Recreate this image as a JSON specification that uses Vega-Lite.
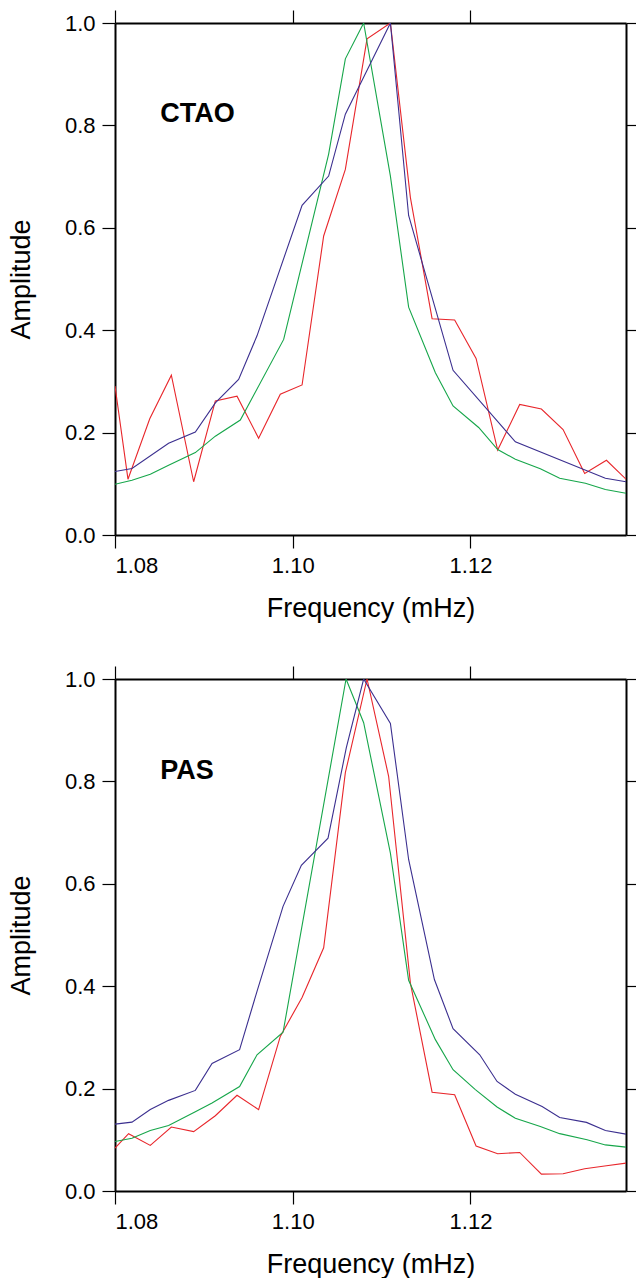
{
  "$schema": "https://vega.github.io/schema/vega-lite/v6.json",
  "background": "white",
  "padding": {"left": 7, "top": 9, "right": 8, "bottom": 1},
  "spacing": 144,
  "bounds": "flush",
  "config": {
    "view": {"stroke": null},
    "font": "Liberation Sans",
    "axis": {
      "grid": false,
      "domainColor": "black",
      "domainWidth": 2,
      "tickColor": "black",
      "tickWidth": 1.2,
      "tickSize": 13,
      "labelFont": "Liberation Sans",
      "labelFontSize": 22,
      "labelColor": "black",
      "labelPadding": 7,
      "titleFont": "Liberation Sans",
      "titleFontSize": 27,
      "titleFontWeight": "normal",
      "titleColor": "black"
    }
  },
  "datasets": {
    "ctao": [
      {"s": "red", "f": 1.08, "a": 0.291},
      {"s": "red", "f": 1.08146, "a": 0.109},
      {"s": "red", "f": 1.08391, "a": 0.227},
      {"s": "red", "f": 1.08634, "a": 0.312},
      {"s": "red", "f": 1.08885, "a": 0.104},
      {"s": "red", "f": 1.09129, "a": 0.262},
      {"s": "red", "f": 1.09373, "a": 0.271},
      {"s": "red", "f": 1.09616, "a": 0.189},
      {"s": "red", "f": 1.0986, "a": 0.275},
      {"s": "red", "f": 1.10105, "a": 0.293},
      {"s": "red", "f": 1.10348, "a": 0.584},
      {"s": "red", "f": 1.10592, "a": 0.714},
      {"s": "red", "f": 1.10836, "a": 0.969},
      {"s": "red", "f": 1.11099, "a": 1.0},
      {"s": "red", "f": 1.11324, "a": 0.659},
      {"s": "red", "f": 1.11568, "a": 0.4225},
      {"s": "red", "f": 1.11822, "a": 0.42},
      {"s": "red", "f": 1.12063, "a": 0.345},
      {"s": "red", "f": 1.12306, "a": 0.166},
      {"s": "red", "f": 1.12554, "a": 0.255},
      {"s": "red", "f": 1.12798, "a": 0.246},
      {"s": "red", "f": 1.13042, "a": 0.206},
      {"s": "red", "f": 1.13285, "a": 0.12},
      {"s": "red", "f": 1.1353, "a": 0.146},
      {"s": "red", "f": 1.1375, "a": 0.109},
      {"s": "green", "f": 1.08, "a": 0.099},
      {"s": "green", "f": 1.08191, "a": 0.107},
      {"s": "green", "f": 1.08397, "a": 0.1185},
      {"s": "green", "f": 1.08603, "a": 0.136},
      {"s": "green", "f": 1.08904, "a": 0.161},
      {"s": "green", "f": 1.09129, "a": 0.193},
      {"s": "green", "f": 1.0941, "a": 0.2246},
      {"s": "green", "f": 1.09898, "a": 0.382},
      {"s": "green", "f": 1.10404, "a": 0.744},
      {"s": "green", "f": 1.10592, "a": 0.93},
      {"s": "green", "f": 1.10798, "a": 1.0},
      {"s": "green", "f": 1.11099, "a": 0.701},
      {"s": "green", "f": 1.11304, "a": 0.445},
      {"s": "green", "f": 1.11605, "a": 0.317},
      {"s": "green", "f": 1.11804, "a": 0.252},
      {"s": "green", "f": 1.12092, "a": 0.21},
      {"s": "green", "f": 1.12306, "a": 0.167},
      {"s": "green", "f": 1.12505, "a": 0.148},
      {"s": "green", "f": 1.12786, "a": 0.1295},
      {"s": "green", "f": 1.13004, "a": 0.111},
      {"s": "green", "f": 1.13293, "a": 0.101},
      {"s": "green", "f": 1.13518, "a": 0.089},
      {"s": "green", "f": 1.1375, "a": 0.0814},
      {"s": "blue", "f": 1.08, "a": 0.124},
      {"s": "blue", "f": 1.08191, "a": 0.13},
      {"s": "blue", "f": 1.08603, "a": 0.179},
      {"s": "blue", "f": 1.08904, "a": 0.201},
      {"s": "blue", "f": 1.09129, "a": 0.258},
      {"s": "blue", "f": 1.09391, "a": 0.304},
      {"s": "blue", "f": 1.09598, "a": 0.389},
      {"s": "blue", "f": 1.10105, "a": 0.644},
      {"s": "blue", "f": 1.10404, "a": 0.701},
      {"s": "blue", "f": 1.10592, "a": 0.822},
      {"s": "blue", "f": 1.11099, "a": 1.0},
      {"s": "blue", "f": 1.11304, "a": 0.624},
      {"s": "blue", "f": 1.11804, "a": 0.3217},
      {"s": "blue", "f": 1.12505, "a": 0.182},
      {"s": "blue", "f": 1.13518, "a": 0.111},
      {"s": "blue", "f": 1.1375, "a": 0.104}
    ],
    "pas": [
      {"s": "red", "f": 1.08, "a": 0.0837},
      {"s": "red", "f": 1.08153, "a": 0.112},
      {"s": "red", "f": 1.08397, "a": 0.089},
      {"s": "red", "f": 1.08634, "a": 0.125},
      {"s": "red", "f": 1.08885, "a": 0.116},
      {"s": "red", "f": 1.09129, "a": 0.147},
      {"s": "red", "f": 1.09373, "a": 0.187},
      {"s": "red", "f": 1.09616, "a": 0.159},
      {"s": "red", "f": 1.0986, "a": 0.302},
      {"s": "red", "f": 1.10105, "a": 0.378},
      {"s": "red", "f": 1.10348, "a": 0.475},
      {"s": "red", "f": 1.10592, "a": 0.817},
      {"s": "red", "f": 1.10836, "a": 1.0},
      {"s": "red", "f": 1.11079, "a": 0.81},
      {"s": "red", "f": 1.11324, "a": 0.406},
      {"s": "red", "f": 1.11568, "a": 0.193},
      {"s": "red", "f": 1.11822, "a": 0.188},
      {"s": "red", "f": 1.12063, "a": 0.088},
      {"s": "red", "f": 1.12306, "a": 0.0727},
      {"s": "red", "f": 1.12554, "a": 0.0753},
      {"s": "red", "f": 1.12798, "a": 0.0329},
      {"s": "red", "f": 1.13042, "a": 0.0336},
      {"s": "red", "f": 1.13285, "a": 0.0434},
      {"s": "red", "f": 1.1353, "a": 0.0493},
      {"s": "red", "f": 1.1375, "a": 0.0544},
      {"s": "green", "f": 1.08, "a": 0.0968},
      {"s": "green", "f": 1.08191, "a": 0.103},
      {"s": "green", "f": 1.08397, "a": 0.118},
      {"s": "green", "f": 1.08603, "a": 0.128},
      {"s": "green", "f": 1.08904, "a": 0.155},
      {"s": "green", "f": 1.09092, "a": 0.172},
      {"s": "green", "f": 1.09402, "a": 0.204},
      {"s": "green", "f": 1.09598, "a": 0.266},
      {"s": "green", "f": 1.09891, "a": 0.31},
      {"s": "green", "f": 1.106, "a": 1.0},
      {"s": "green", "f": 1.10798, "a": 0.9146},
      {"s": "green", "f": 1.11099, "a": 0.66},
      {"s": "green", "f": 1.11304, "a": 0.4115},
      {"s": "green", "f": 1.11605, "a": 0.2956},
      {"s": "green", "f": 1.11804, "a": 0.237},
      {"s": "green", "f": 1.12055, "a": 0.198},
      {"s": "green", "f": 1.12299, "a": 0.164},
      {"s": "green", "f": 1.12505, "a": 0.142},
      {"s": "green", "f": 1.12786, "a": 0.126},
      {"s": "green", "f": 1.13004, "a": 0.112},
      {"s": "green", "f": 1.13312, "a": 0.1},
      {"s": "green", "f": 1.13518, "a": 0.09},
      {"s": "green", "f": 1.1375, "a": 0.0857},
      {"s": "blue", "f": 1.08, "a": 0.1306},
      {"s": "blue", "f": 1.08191, "a": 0.1345},
      {"s": "blue", "f": 1.08397, "a": 0.159},
      {"s": "blue", "f": 1.08603, "a": 0.177},
      {"s": "blue", "f": 1.08904, "a": 0.1965},
      {"s": "blue", "f": 1.09092, "a": 0.249},
      {"s": "blue", "f": 1.09402, "a": 0.276},
      {"s": "blue", "f": 1.09598, "a": 0.39},
      {"s": "blue", "f": 1.09891, "a": 0.556},
      {"s": "blue", "f": 1.10097, "a": 0.636},
      {"s": "blue", "f": 1.10397, "a": 0.689},
      {"s": "blue", "f": 1.10603, "a": 0.866},
      {"s": "blue", "f": 1.10798, "a": 1.0},
      {"s": "blue", "f": 1.11099, "a": 0.913},
      {"s": "blue", "f": 1.11304, "a": 0.6475},
      {"s": "blue", "f": 1.11594, "a": 0.413},
      {"s": "blue", "f": 1.11804, "a": 0.317},
      {"s": "blue", "f": 1.12104, "a": 0.266},
      {"s": "blue", "f": 1.12299, "a": 0.214},
      {"s": "blue", "f": 1.12505, "a": 0.189},
      {"s": "blue", "f": 1.12806, "a": 0.165},
      {"s": "blue", "f": 1.13004, "a": 0.1437},
      {"s": "blue", "f": 1.13305, "a": 0.134},
      {"s": "blue", "f": 1.13518, "a": 0.118},
      {"s": "blue", "f": 1.1375, "a": 0.111}
    ],
    "labels": [
      {"panel": "ctao", "f": 1.0851, "a": 0.822, "label": "CTAO"},
      {"panel": "pas", "f": 1.0851, "a": 0.82, "label": "PAS"}
    ]
  },
  "vconcat": [
    {
      "width": 511,
      "height": 512,
      "layer": [
        {
          "data": {"name": "ctao"},
          "mark": {"type": "line", "strokeWidth": 1.1, "clip": true},
          "encoding": {
            "x": {"field": "f", "type": "quantitative", "scale": {"domain": [1.08, 1.1375], "nice": false, "zero": false},
                  "axis": {"orient": "bottom", "values": [1.08, 1.1, 1.12], "format": ".2f", "title": "Frequency (mHz)", "titlePadding": 19}},
            "y": {"field": "a", "type": "quantitative", "scale": {"domain": [0, 1], "nice": false},
                  "axis": {"orient": "left", "values": [0, 0.2, 0.4, 0.6, 0.8, 1.0], "format": ".1f", "title": "Amplitude", "titlePadding": 29}},
            "color": {"field": "s", "type": "nominal", "scale": {"domain": ["red", "green", "blue"], "range": ["#e8262b", "#16a64a", "#3b2f8f"]}, "legend": null},
            "order": {"field": "f", "type": "quantitative"}
          }
        },
        {
          "data": {"name": "labels"},
          "transform": [{"filter": "datum.panel == 'ctao'"}],
          "mark": {"type": "text", "fontWeight": "bold", "fontSize": 27, "align": "left", "baseline": "middle", "font": "Liberation Sans", "color": "black"},
          "encoding": {
            "x": {"field": "f", "type": "quantitative", "axis": {"orient": "top", "values": [1.08, 1.1, 1.12], "labels": false, "title": null}},
            "y": {"field": "a", "type": "quantitative", "axis": {"orient": "right", "values": [0, 0.2, 0.4, 0.6, 0.8, 1.0], "labels": false, "title": null}},
            "text": {"field": "label"}
          }
        }
      ]
    },
    {
      "width": 511,
      "height": 512,
      "layer": [
        {
          "data": {"name": "pas"},
          "mark": {"type": "line", "strokeWidth": 1.1, "clip": true},
          "encoding": {
            "x": {"field": "f", "type": "quantitative", "scale": {"domain": [1.08, 1.1375], "nice": false, "zero": false},
                  "axis": {"orient": "bottom", "values": [1.08, 1.1, 1.12], "format": ".2f", "title": "Frequency (mHz)", "titlePadding": 19}},
            "y": {"field": "a", "type": "quantitative", "scale": {"domain": [0, 1], "nice": false},
                  "axis": {"orient": "left", "values": [0, 0.2, 0.4, 0.6, 0.8, 1.0], "format": ".1f", "title": "Amplitude", "titlePadding": 29}},
            "color": {"field": "s", "type": "nominal", "scale": {"domain": ["red", "green", "blue"], "range": ["#e8262b", "#16a64a", "#3b2f8f"]}, "legend": null},
            "order": {"field": "f", "type": "quantitative"}
          }
        },
        {
          "data": {"name": "labels"},
          "transform": [{"filter": "datum.panel == 'pas'"}],
          "mark": {"type": "text", "fontWeight": "bold", "fontSize": 27, "align": "left", "baseline": "middle", "font": "Liberation Sans", "color": "black"},
          "encoding": {
            "x": {"field": "f", "type": "quantitative", "axis": {"orient": "top", "values": [1.08, 1.1, 1.12], "labels": false, "title": null}},
            "y": {"field": "a", "type": "quantitative", "axis": {"orient": "right", "values": [0, 0.2, 0.4, 0.6, 0.8, 1.0], "labels": false, "title": null}},
            "text": {"field": "label"}
          }
        }
      ]
    }
  ]
}
